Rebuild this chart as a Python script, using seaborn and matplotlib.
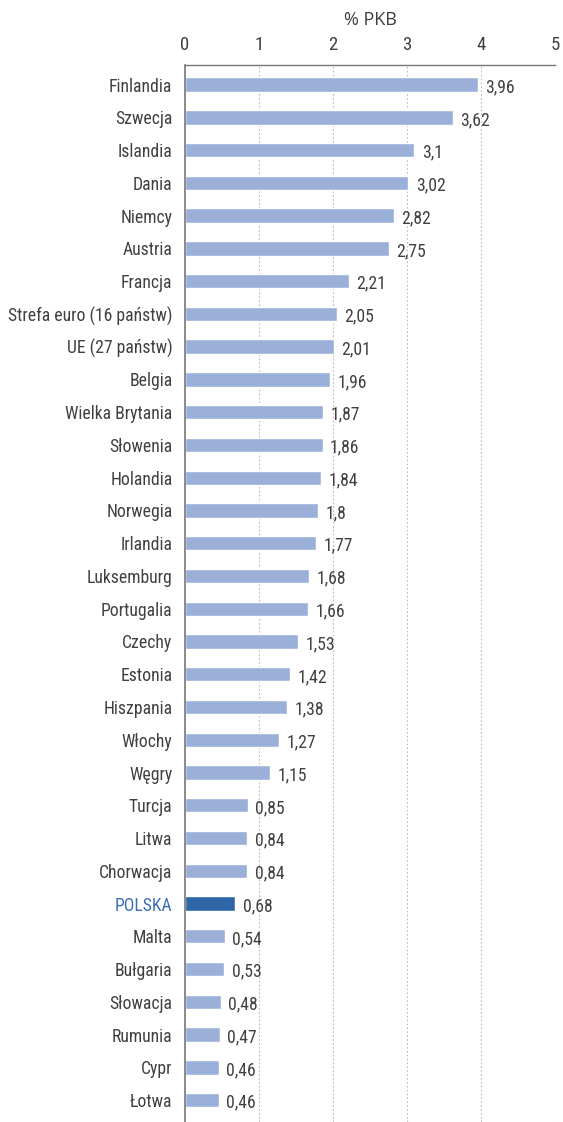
import matplotlib
matplotlib.use("Agg")
import matplotlib.pyplot as plt
from matplotlib import font_manager
import seaborn as sns
import pandas as pd

countries = ["Finlandia", "Szwecja", "Islandia", "Dania", "Niemcy", "Austria", "Francja",
             "Strefa euro (16 państw)", "UE (27 państw)", "Belgia", "Wielka Brytania",
             "Słowenia", "Holandia", "Norwegia", "Irlandia", "Luksemburg", "Portugalia",
             "Czechy", "Estonia", "Hiszpania", "Włochy", "Węgry", "Turcja", "Litwa",
             "Chorwacja", "POLSKA", "Malta", "Bułgaria", "Słowacja", "Rumunia", "Cypr", "Łotwa"]
values = [3.96, 3.62, 3.1, 3.02, 2.82, 2.75, 2.21, 2.05, 2.01, 1.96, 1.87, 1.86, 1.84, 1.8,
          1.77, 1.68, 1.66, 1.53, 1.42, 1.38, 1.27, 1.15, 0.85, 0.84, 0.84, 0.68, 0.54, 0.53,
          0.48, 0.47, 0.46, 0.46]
xticks = [0, 1, 2, 3, 4, 5]
highlight = "POLSKA"

names = {f.name for f in font_manager.fontManager.ttflist}
fam = "Roboto Condensed" if "Roboto Condensed" in names else "Liberation Sans Narrow" if "Liberation Sans Narrow" in names else "Liberation Sans"

sns.set_style("white")
plt.rcParams["font.family"] = [fam, "DejaVu Sans"]

df = pd.DataFrame({"country": countries, "value": values})
base = "#9bb0d8"
hi = "#2e67a6"
palette = {c: (hi if c == highlight else base) for c in countries}

fig = plt.figure(figsize=(5.63, 11.22), dpi=100)
ax = fig.add_axes([185 / 563, 0.0, (555 - 185) / 563, 1 - 65 / 1122])
sns.barplot(data=df, x="value", y="country", hue="country", palette=palette,
            legend=False, width=0.44, saturation=1, ax=ax, orient="h")

ax.set_xlim(0, 5)
ax.set_ylim(len(countries) - 1 + 0.67, -0.6)
ax.xaxis.tick_top()
ax.xaxis.set_label_position("top")
ax.set_xticks(xticks)
ax.set_xticklabels([str(t) for t in xticks])
ax.set_xlabel("% PKB", fontsize=13, color="#404040", labelpad=8,
              family=["Open Sans", "DejaVu Sans"])
ax.set_ylabel("")
ax.tick_params(axis="x", length=0, pad=8, labelsize=13.5, labelcolor="#404040")
ax.tick_params(axis="y", length=0, pad=9, labelsize=12.7, labelcolor="#404040")
for lab in ax.get_yticklabels():
    if lab.get_text() == highlight:
        lab.set_color("#3a6fb0")

for x in xticks[1:]:
    ax.axvline(x, color="#bbbbbb", linestyle=(0, (1.5, 2)), linewidth=0.8, zorder=0)

for sp in ["right", "bottom"]:
    ax.spines[sp].set_visible(False)
ax.spines["left"].set_color("#777777")
ax.spines["left"].set_linewidth(1.2)
ax.spines["top"].set_color("#777777")
ax.spines["top"].set_linewidth(1.0)

for i, v in enumerate(values):
    ax.text(v + 0.1, i + 0.08, f"{v:g}".replace(".", ","), va="center", ha="left",
            fontsize=12.7, color="#404040")

fig.savefig("out.png", dpi=100)
